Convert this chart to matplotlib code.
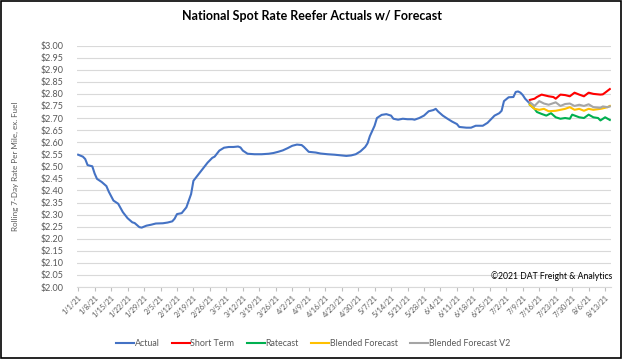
import matplotlib.pyplot as plt
from matplotlib.patches import Rectangle

# days counted from 1/1/21
actual_days = [0, 2, 3, 4, 6, 7, 8, 10, 12, 13, 15, 17, 19, 21, 23, 24, 26, 27, 29, 31,
               33, 36, 38, 40, 41, 42, 44, 46, 48, 49, 51, 53, 55, 57, 58, 60, 62, 64, 66, 68,
               69, 70, 72, 75, 78, 81, 83, 85, 87, 89, 91, 93, 95, 96, 98, 101, 103, 106, 109, 112,
               114, 116, 118, 120, 122, 123, 124, 126, 127, 129, 131, 133, 134, 136, 138, 140, 142, 143, 145, 147,
               149, 151, 152, 153, 155, 157, 159, 161, 162, 165, 167, 169, 172, 174, 175, 177, 179, 180, 181, 183,
               185, 186, 187, 188, 189, 190, 192]
actual_vals = [2.548, 2.540, 2.530, 2.505, 2.500, 2.470, 2.448, 2.435, 2.418, 2.395, 2.358, 2.345, 2.310, 2.285, 2.268, 2.265, 2.248, 2.246, 2.254, 2.258,
               2.263, 2.264, 2.267, 2.272, 2.283, 2.302, 2.306, 2.330, 2.385, 2.440, 2.465, 2.490, 2.515, 2.535, 2.540, 2.565, 2.577, 2.580, 2.580, 2.582,
               2.578, 2.565, 2.552, 2.550, 2.550, 2.552, 2.555, 2.560, 2.566, 2.575, 2.585, 2.590, 2.588, 2.580, 2.560, 2.557, 2.553, 2.550, 2.548, 2.545,
               2.543, 2.545, 2.550, 2.562, 2.580, 2.595, 2.625, 2.668, 2.700, 2.713, 2.716, 2.710, 2.697, 2.693, 2.697, 2.695, 2.695, 2.693, 2.700, 2.710,
               2.728, 2.733, 2.738, 2.727, 2.710, 2.697, 2.685, 2.675, 2.663, 2.660, 2.660, 2.668, 2.668, 2.680, 2.690, 2.710, 2.720, 2.730, 2.770, 2.786,
               2.787, 2.808, 2.810, 2.805, 2.795, 2.780, 2.760]

short_days = [192, 194, 195, 197, 200, 202, 203, 205, 207, 209, 211, 213, 215, 217, 219, 222, 223, 224, 226]
short_vals = [2.775, 2.780, 2.787, 2.797, 2.790, 2.787, 2.780, 2.797, 2.795, 2.790, 2.805, 2.797, 2.790, 2.805, 2.800, 2.797, 2.798, 2.805, 2.820]

ratecast_days = [192, 194, 195, 197, 199, 201, 203, 205, 207, 209, 210, 213, 215, 217, 219, 221, 222, 224, 226]
ratecast_vals = [2.755, 2.738, 2.725, 2.717, 2.710, 2.720, 2.703, 2.697, 2.700, 2.697, 2.714, 2.703, 2.700, 2.714, 2.703, 2.700, 2.690, 2.703, 2.692]

blend_days = [192, 194, 196, 198, 200, 203, 205, 207, 209, 211, 213, 215, 217, 219, 222, 223, 225, 226]
blend_vals = [2.755, 2.738, 2.734, 2.738, 2.728, 2.730, 2.734, 2.738, 2.745, 2.734, 2.738, 2.730, 2.738, 2.734, 2.738, 2.740, 2.745, 2.750]
blend_v2_vals = [2.766, 2.750, 2.770, 2.760, 2.755, 2.765, 2.750, 2.758, 2.760, 2.750, 2.755, 2.750, 2.757, 2.745, 2.742, 2.748, 2.745, 2.748]

tick_labels = ["1/1/21", "1/8/21", "1/15/21", "1/22/21", "1/29/21", "2/5/21", "2/12/21", "2/19/21",
               "2/26/21", "3/5/21", "3/12/21", "3/19/21", "3/26/21", "4/2/21", "4/9/21", "4/16/21",
               "4/23/21", "4/30/21", "5/7/21", "5/14/21", "5/21/21", "5/28/21", "6/4/21", "6/11/21",
               "6/18/21", "6/25/21", "7/2/21", "7/9/21", "7/16/21", "7/23/21", "7/30/21", "8/6/21", "8/13/21"]

plt.rcParams['font.family'] = ['Lato', 'DejaVu Sans']
txt = '#595959'

fig = plt.figure(figsize=(6.24, 3.59), dpi=100)
ax = fig.add_axes([77 / 624, 1 - 287 / 359, (611 - 77) / 624, (287 - 45.6) / 359])

lw = 1.5
ax.plot(actual_days, actual_vals, color='#4472C4', lw=lw, label='Actual')
ax.plot(short_days, short_vals, color='#FF0000', lw=lw, label='Short Term')
ax.plot(ratecast_days, ratecast_vals, color='#00B050', lw=lw, label='Ratecast')
ax.plot(blend_days, blend_vals, color='#FFC000', lw=lw, label='Blended Forecast')
ax.plot(blend_days, blend_v2_vals, color='#A5A5A5', lw=lw, label='Blended Forecast V2')

ax.set_xlim(-0.5, 226.5)
ax.set_ylim(2.0, 3.0)
ax.set_yticks([2.0 + 0.05 * i for i in range(21)])
ax.set_yticklabels([f"${2.0 + 0.05 * i:.2f}" for i in range(21)], fontsize=6.5, color=txt)
ax.set_xticks(range(0, 7 * len(tick_labels), 7))
ax.set_xticklabels(tick_labels, rotation=45, ha='right', rotation_mode='anchor', fontsize=5.3, color=txt)
ax.tick_params(axis='y', length=0, pad=10)
ax.tick_params(axis='x', length=3, color='#bfbfbf', pad=2)
ax.grid(axis='y', color='#d9d9d9', lw=0.8)
ax.set_axisbelow(True)
for s in ['top', 'right', 'left']:
    ax.spines[s].set_visible(False)
ax.spines['bottom'].set_color('#d9d9d9')

ax.set_ylabel("Rolling 7-Day Rate Per Mile, ex. Fuel", fontsize=5.8, color=txt)
ax.yaxis.set_label_coords(-0.108, 0.5)

fig.text(0.5, 1 - 16 / 359, "National Spot Rate Reefer Actuals w/ Forecast",
         ha='center', va='center', fontsize=9, fontweight='bold', color='black')
fig.text(612 / 624, 1 - 276 / 359, "\u00a92021 DAT Freight & Analytics",
         ha='right', va='center', fontsize=6.2, color='black')

fig.legend(loc='center', bbox_to_anchor=(313 / 624, 1 - 344 / 359), ncol=5, frameon=False,
           fontsize=6.4, labelcolor=txt, handlelength=2.0, handletextpad=0.1, columnspacing=1.4)

fig.patches.append(Rectangle((0.002, 0.003), 0.993, 0.994, transform=fig.transFigure,
                             fill=False, edgecolor='black', lw=1.2))

fig.savefig('out.png', dpi=100)
